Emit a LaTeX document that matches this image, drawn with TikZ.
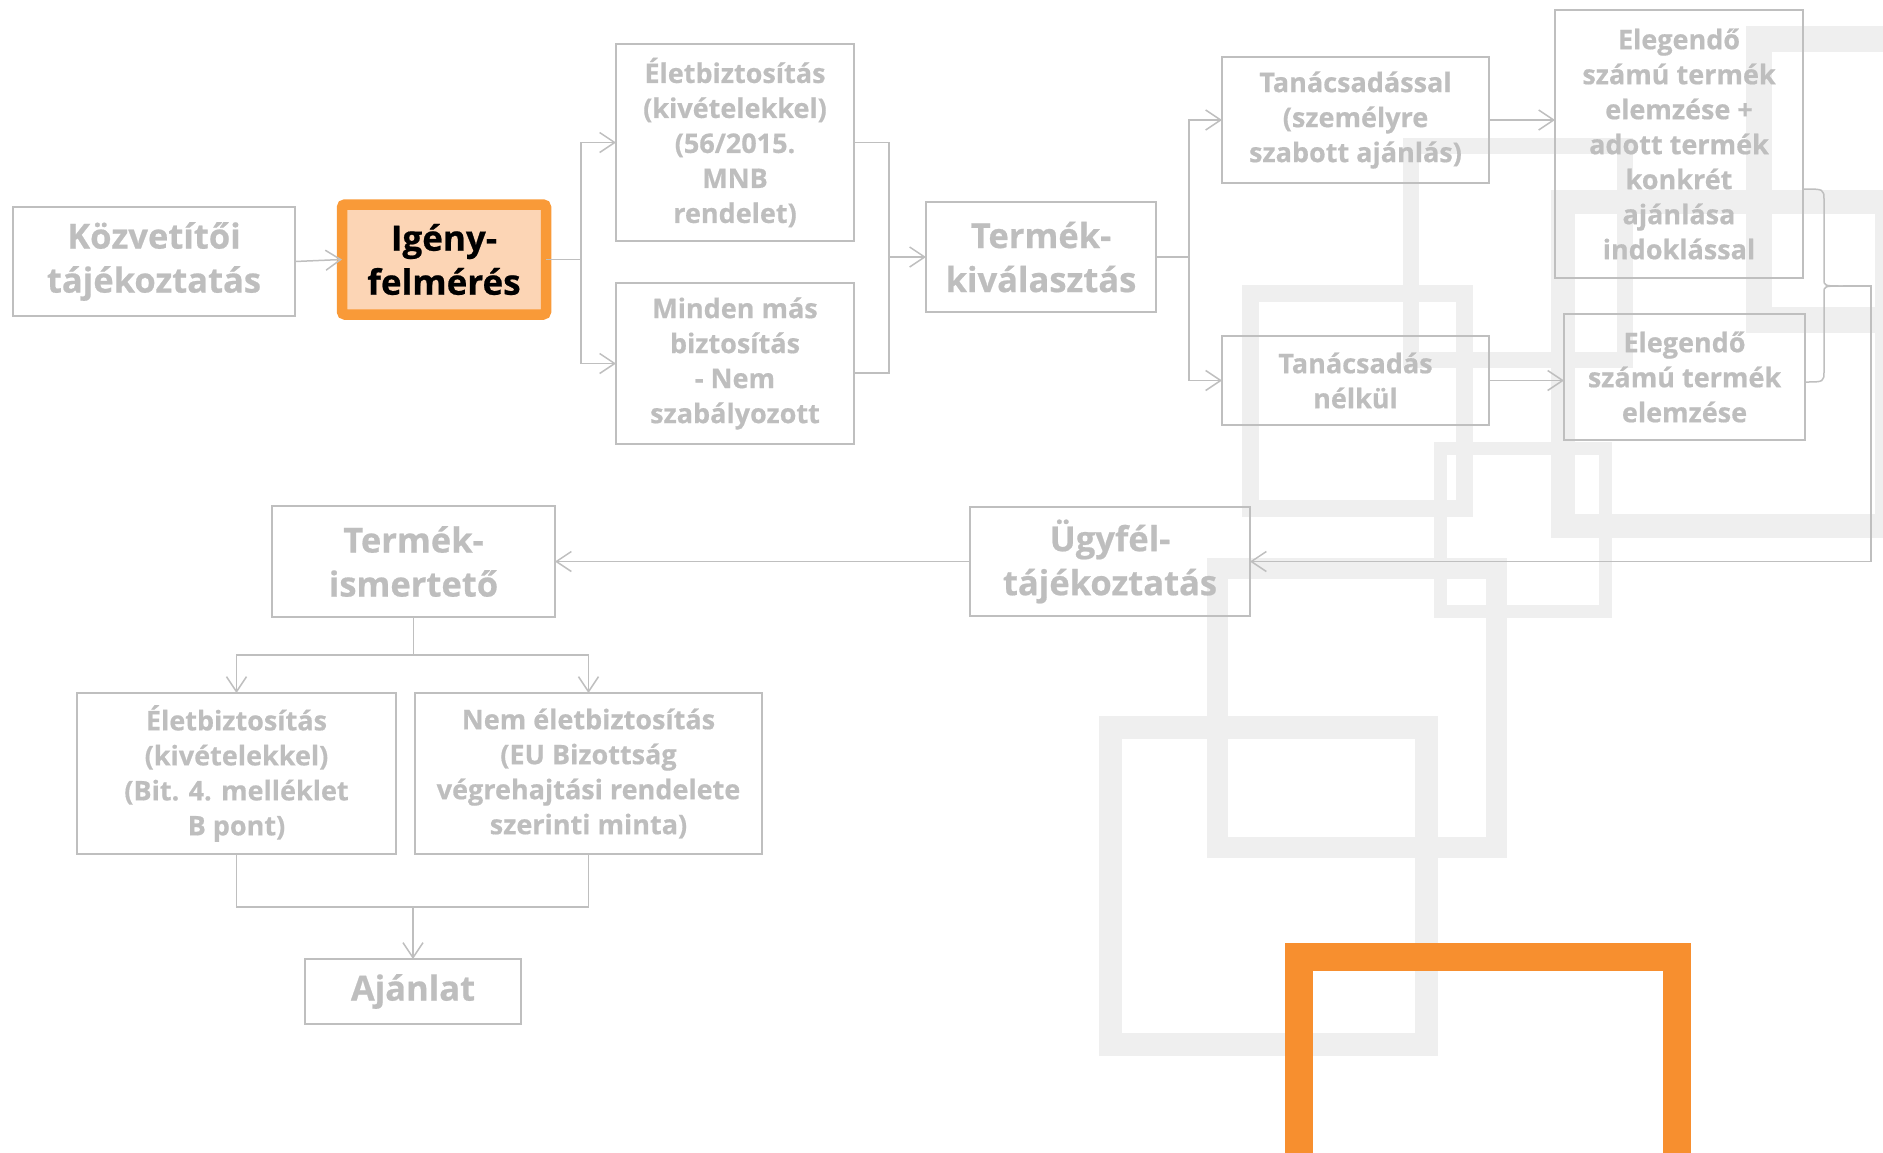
\documentclass[tikz,border=0pt]{standalone}
\usepackage{fontspec}
\setmainfont{Open Sans}[BoldFeatures={FakeBold=0.6}]
\usetikzlibrary{arrows.meta,calc}
\definecolor{bggray}{HTML}{EFEFEF}
\definecolor{boxgray}{HTML}{BFBFBF}
\definecolor{txtgray}{HTML}{BEBEBE}
\definecolor{orangeA}{HTML}{F99A38}
\definecolor{orangeB}{HTML}{F78F2F}
\definecolor{peach}{HTML}{FCD5B5}
\tikzset{
  frame/.style={draw=bggray},
  bigtxt/.style={font=\fontsize{34.5}{44}\selectfont\bfseries, text=txtgray},
  midtxt/.style={font=\fontsize{27}{35}\selectfont\bfseries, text=txtgray},
  box/.style={draw=boxgray, line width=2pt, align=center, inner sep=0pt, outer sep=0pt},
  conn/.style={draw=boxgray, line width=1.5pt},
  arr/.style={conn, -{Straight Barb[length=15pt,width=20pt,line width=1.5pt]}},
}
\begin{document}
\begin{tikzpicture}[x=1pt,y=-1pt]
\useasboundingbox (0,0) rectangle (1883,1152);
% background frames
\draw[frame, line width=26pt] (1759,39) rectangle (2040,320);
\draw[frame, line width=24pt] (1563,202) rectangle (1887,526);
\draw[frame, line width=17pt] (1250.5,293.5) rectangle (1464.5,508.5);
\draw[frame, line width=16pt] (1411,146) rectangle (1625,360);
\draw[frame, line width=13pt] (1440.5,448.5) rectangle (1605.5,611.5);
\draw[frame, line width=21pt] (1217.5,568.5) rectangle (1496.5,847.5);
\draw[frame, line width=23pt] (1110.5,727.5) rectangle (1426.5,1044.5);
\draw[draw=orangeB, line width=28pt] (1299,957) rectangle (1677,1335);
% boxes
\node[box, bigtxt, minimum width=282pt, minimum height=109pt] (kozv) at (154,261.5) {Közvetítői\\tájékoztatás};
\node[box, draw=orangeA, fill=peach, line width=10.5pt, rounded corners=3pt, font=\fontsize{35}{44}\selectfont\bfseries, text=black, minimum width=204pt, minimum height=110pt] (igeny) at (444,259.5) {Igény-\\felmérés};
\node[box, midtxt, minimum width=238pt, minimum height=197pt] (elet1) at (735,142.5) {Életbiztosítás\\(kivételekkel)\\(56/2015.\\MNB\\rendelet)};
\node[box, midtxt, minimum width=238pt, minimum height=161pt] (minden) at (735,363.5) {Minden más\\biztosítás\\- Nem\\szabályozott};
\node[box, bigtxt, minimum width=230pt, minimum height=110pt] (termk) at (1041,257) {Termék-\\kiválasztás};
\node[box, midtxt, minimum width=267pt, minimum height=126pt] (tan1) at (1355.5,120) {Tanácsadással\\(személyre\\szabott ajánlás)};
\node[box, midtxt, minimum width=267pt, minimum height=89pt] (tan2) at (1355.5,380.5) {Tanácsadás\\nélkül};
\node[box, midtxt, minimum width=248pt, minimum height=268pt] (eleg1) at (1679,144) {Elegendő\\számú termék\\elemzése +\\adott termék\\konkrét\\ajánlása\\indoklással};
\node[box, midtxt, minimum width=241pt, minimum height=126pt] (eleg2) at (1684.5,377) {Elegendő\\számú termék\\elemzése};
\node[box, bigtxt, minimum width=280pt, minimum height=109pt] (ugy) at (1110,561.5) {Ügyfél-\\tájékoztatás};
\node[box, bigtxt, minimum width=283pt, minimum height=111pt] (termi) at (413.5,561.5) {Termék-\\ismertető};
\node[box, midtxt, minimum width=319pt, minimum height=161pt] (elet2) at (236.5,773.5) {Életbiztosítás\\(kivételekkel)\\(Bit. 4. melléklet\\B pont)};
\node[box, midtxt, minimum width=347pt, minimum height=161pt] (nem) at (588.5,773.5) {Nem életbiztosítás\\(EU Bizottság\\végrehajtási rendelete\\szerinti minta)};
\node[box, bigtxt, minimum width=216pt, minimum height=65pt] (ajan) at (413,991.5) {Ajánlat};
% connectors
\draw[arr] (kozv.east) -- (igeny.west);
\coordinate (s1) at (581,259.5);
\draw[conn] (igeny.east) -- (s1);
\draw[arr] (s1) |- (elet1.west);
\draw[arr] (s1) |- (minden.west);
\coordinate (m1) at (889,257);
\draw[conn] (elet1.east) -| (m1);
\draw[conn] ([yshift=-9.5pt]minden.east) -| (m1);
\draw[arr] (m1) -- (termk.west);
\coordinate (s2) at (1189,257);
\draw[conn] (termk.east) -- (s2);
\draw[arr] (s2) |- (tan1.west);
\draw[arr] (s2) |- (tan2.west);
\draw[arr] (tan1.east) -- (tan1.east -| eleg1.west);
\draw[arr] (tan2.east) -- (tan2.east -| eleg2.west);
\coordinate (bt) at (1843,286);
\coordinate (rt) at (1871,286);
\draw[conn] ([yshift=-45pt]eleg1.east) .. controls (1824,189) .. (1824,200) -- (1824,279) .. controls (1824,286) .. (bt);
\draw[conn] ([yshift=-5pt]eleg2.east) .. controls (1824,382) .. (1824,371) -- (1824,293) .. controls (1824,286) .. (bt);
\draw[arr] (bt) -- (rt) |- (ugy.east);
\draw[arr] (ugy.west) -- (termi.east);
\coordinate (s3) at (413.5,655);
\draw[conn] (termi.south) -- (s3);
\draw[arr] (s3) -| (elet2.north);
\draw[arr] (s3) -| (nem.north);
\coordinate (m3) at (413,907);
\draw[conn] (elet2.south) |- (m3);
\draw[conn] (nem.south) |- (m3);
\draw[arr] (m3) -- (ajan.north);
\end{tikzpicture}
\end{document}
